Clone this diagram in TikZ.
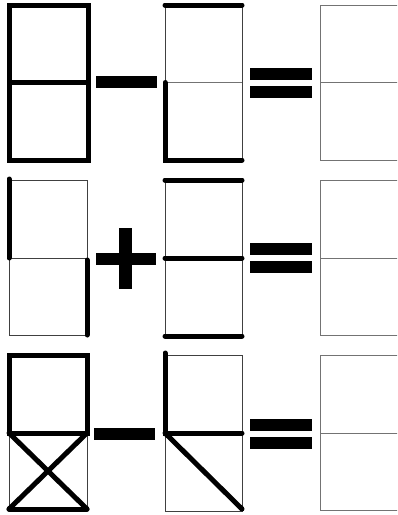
\documentclass[tikz,border=0pt]{standalone}
\begin{document}
\begin{tikzpicture}[x=1pt,y=-1pt,
  thin line/.style={line width=1pt,draw=black!75},
  gray line/.style={line width=1pt,draw=black!55},
  thick line/.style={line width=5pt,draw=black,line cap=round},
  thick frame/.style={line width=5pt,draw=black,line join=miter},
  sign/.style={fill=black}]
\useasboundingbox (0,0) rectangle (397,515);
\clip (0,0) rectangle (397,515);
% ---------- row 1 ----------
\draw[thick frame] (9,5) rectangle (88,160.5);
\draw[thick frame] (9,82.5) -- (88,82.5);
\draw[thin line] (165,5) -- (165,82.5);
\draw[thin line] (242,5) -- (242,160);
\draw[gray line] (165,82.5) -- (242,82.5);
\draw[thick line] (165,5) -- (242,5);
\draw[thick line] (165,82.5) -- (165,160) -- (242,160);
\fill[sign] (96,76) rectangle (157,88);
\fill[sign] (250,68) rectangle (312,80);
\fill[sign] (250,86) rectangle (312,98);
\draw[gray line] (400,5) -- (320,5) -- (320,160) -- (400,160);
\draw[gray line] (320,82.5) -- (400,82.5);
% ---------- row 2 ----------
\draw[thin line] (9,180) rectangle (87,335);
\draw[thin line] (9,258) -- (87,258);
\draw[thick line] (9,179) -- (9,258);
\draw[thick line] (87,260) -- (87,335);
\draw[thin line] (165,180) rectangle (242,336);
\draw[thick line] (165,180) -- (242,180);
\draw[thick line] (165,258) -- (242,258);
\draw[thick line] (165,336) -- (242,336);
\fill[sign] (96,253) rectangle (156,265);
\fill[sign] (119,228) rectangle (132,289);
\fill[sign] (250,243) rectangle (312,255);
\fill[sign] (250,261) rectangle (312,273);
\draw[gray line] (400,180) -- (320,180) -- (320,335) -- (400,335);
\draw[gray line] (320,258) -- (400,258);
% ---------- row 3 ----------
\draw[thin line] (9,433) -- (9,509);
\draw[thin line] (87,433) -- (87,509);
\draw[thick frame] (9,355) rectangle (87,433);
\draw[thick line] (9,433) -- (87,509);
\draw[thick line] (87,433) -- (9,509);
\draw[thick line] (9,509) -- (87,509);
\draw[thin line] (165,355) rectangle (242,511);
\draw[thick line] (165,353) -- (165,433) -- (242,433);
\draw[thick line] (165,433) -- (242,509);
\fill[sign] (94,428) rectangle (155,440);
\fill[sign] (250,419) rectangle (312,431);
\fill[sign] (250,437) rectangle (312,449);
\draw[gray line] (400,355) -- (320,355) -- (320,510) -- (400,510);
\draw[gray line] (320,433) -- (400,433);
\end{tikzpicture}
\end{document}
